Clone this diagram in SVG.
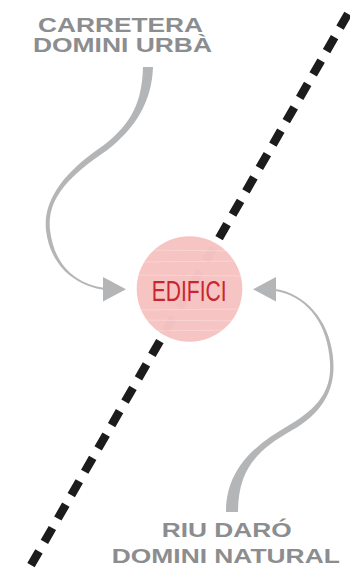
<svg xmlns="http://www.w3.org/2000/svg" width="350" height="570" viewBox="0 0 350 570">
  <style>
    .lbl { font-family: "Liberation Sans", Arial, sans-serif; font-weight: bold; font-size: 21px; fill: #8c8d8f; text-anchor: middle; }
    .arrow { fill: #b4b5b7; }
    .node-text { font-family: "Liberation Sans", Arial, sans-serif; font-size: 30px; fill: #c8262f; text-anchor: middle; }
  </style>
  <defs>
    <clipPath id="circ">
      <circle cx="189.5" cy="289" r="52.8"/>
    </clipPath>
  </defs>
  <rect width="350" height="570" fill="#ffffff"/>

  <g id="boundary">
    <path d="M348,13.8 L31,565.2" stroke="#1c1c1c" stroke-width="8.5" stroke-dasharray="16 10.96" fill="none"/>
  </g>

  <g id="connectors">
    <path class="arrow" d="M153,67 C152,100 136.7,127.5 106.7,150.5 C66.7,177.5 47,199.8 50,229.8 C54,264.8 75.1,284 105.1,288 L104.9,290 C74.9,286 50,265.2 46,230.2 C43,200.2 63.3,172.5 103.3,145.5 C133.3,122.5 142,100 143,67 Z"/>
    <polygon class="arrow" points="103,277 103,301.5 126,289.3"/>
    <path class="arrow" d="M226,512 C226,470 253.5,445.4 288.5,425.4 C323.5,405.4 333.3,385.2 329.3,355.2 C325.3,320.2 304.8,296 275.8,291 L276.2,289 C305.2,294 328.7,319.8 332.7,354.8 C336.7,384.8 326.5,410.6 291.5,430.6 C256.5,450.6 238,470 238,512 Z"/>
    <polygon class="arrow" points="276,277 276,301.5 253,289.3"/>
  </g>

  <g id="edifici">
    <circle cx="189.5" cy="289" r="52.8" fill="#f7c3c3" fill-opacity="0.985"/>
    <g clip-path="url(#circ)" stroke="#ffffff" stroke-opacity="0.35" stroke-width="0.8">
      <line x1="140" y1="250" x2="240" y2="251"/>
      <line x1="136" y1="262" x2="242" y2="261"/>
      <line x1="136" y1="275" x2="242" y2="276"/>
      <line x1="136" y1="310" x2="242" y2="309"/>
      <line x1="136" y1="320" x2="242" y2="321"/>
      <line x1="136" y1="331" x2="242" y2="330"/>
    </g>
    <text class="node-text" x="189.2" y="301" textLength="75" lengthAdjust="spacingAndGlyphs">EDIFICI</text>
  </g>

  <g id="label-carretera">
    <text class="lbl" x="120.5" y="31.7" textLength="165" lengthAdjust="spacingAndGlyphs">CARRETERA</text>
    <text class="lbl" x="122.5" y="51.7" textLength="179" lengthAdjust="spacingAndGlyphs">DOMINI URBÀ</text>
  </g>

  <g id="label-riu">
    <text class="lbl" x="226.7" y="537.3" textLength="130" lengthAdjust="spacingAndGlyphs">RIU DARÓ</text>
    <text class="lbl" x="225.8" y="563.3" textLength="228" lengthAdjust="spacingAndGlyphs">DOMINI NATURAL</text>
  </g>
</svg>
